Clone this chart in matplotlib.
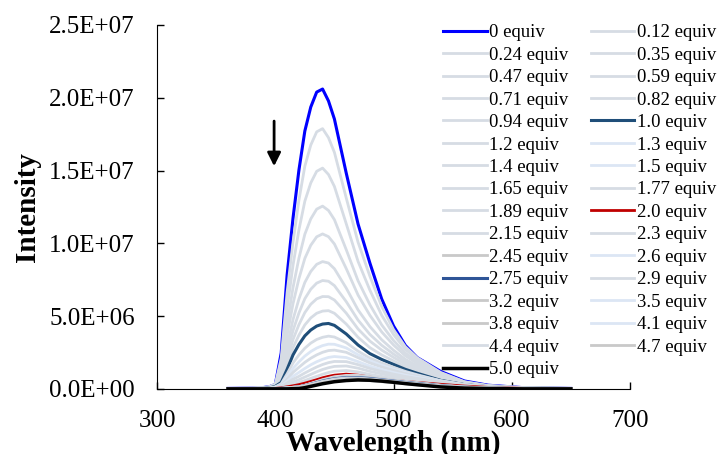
import matplotlib
matplotlib.use('Agg')
import matplotlib.pyplot as plt
from matplotlib.ticker import FuncFormatter, MultipleLocator

plt.rcParams['font.family'] = ['Liberation Serif', 'DejaVu Serif']

# wavelength grid (nm)
wavelength = [360, 380, 390, 395, 400, 405, 410, 415, 420, 425, 430, 435, 440, 445,
              450, 460, 470, 480, 490, 500, 510, 520, 540, 560, 580, 610, 650]

# intensity of each spectrum, in units of 1E+06
s_0    = [0.04, 0.06, 0.10, 0.16, 0.31, 2.47, 7.83, 11.74, 15.04, 17.72, 19.36, 20.39, 20.6, 19.78, 18.54, 14.83, 11.33, 8.65, 6.18, 4.33, 2.99, 2.16, 1.2, 0.55, 0.26, 0.09, 0.04]
s_0_12 = [0.04, 0.06, 0.09, 0.16, 0.32, 2.11, 6.64, 10.1, 12.97, 15.3, 16.75, 17.66, 17.88, 17.26, 16.25, 13.12, 10.08, 7.75, 5.67, 4.08, 2.9, 2.15, 1.13, 0.5, 0.23, 0.08, 0.04]
s_0_24 = [0.03, 0.05, 0.09, 0.15, 0.31, 1.76, 5.51, 8.5, 10.93, 12.9, 14.15, 14.95, 15.17, 14.73, 13.91, 11.35, 8.76, 6.79, 5.06, 3.74, 2.72, 2.05, 1.09, 0.48, 0.23, 0.08, 0.04]
s_0_35 = [0.03, 0.05, 0.08, 0.13, 0.29, 1.43, 4.46, 6.97, 8.99, 10.63, 11.68, 12.35, 12.56, 12.26, 11.63, 9.57, 7.43, 5.79, 4.4, 3.33, 2.47, 1.88, 1.01, 0.45, 0.22, 0.08, 0.04]
s_0_47 = [0.03, 0.04, 0.07, 0.12, 0.28, 1.19, 3.69, 5.86, 7.58, 8.97, 9.87, 10.45, 10.65, 10.46, 9.96, 8.27, 6.45, 5.06, 3.92, 3.02, 2.28, 1.76, 0.94, 0.43, 0.21, 0.07, 0.04]
s_0_59 = [0.02, 0.04, 0.06, 0.1, 0.26, 0.96, 2.95, 4.77, 6.18, 7.32, 8.07, 8.56, 8.75, 8.65, 8.26, 6.93, 5.43, 4.29, 3.38, 2.66, 2.04, 1.59, 0.85, 0.39, 0.19, 0.07, 0.03]
s_0_71 = [0.02, 0.03, 0.05, 0.1, 0.24, 0.8, 2.45, 4.02, 5.22, 6.2, 6.85, 7.27, 7.45, 7.4, 7.1, 6.0, 4.73, 3.75, 3.0, 2.4, 1.87, 1.47, 0.79, 0.36, 0.18, 0.06, 0.03]
s_0_82 = [0.02, 0.03, 0.05, 0.09, 0.22, 0.67, 2.03, 3.4, 4.42, 5.25, 5.82, 6.19, 6.35, 6.34, 6.11, 5.21, 4.12, 3.29, 2.67, 2.17, 1.7, 1.35, 0.73, 0.33, 0.17, 0.06, 0.03]
s_0_94 = [0.02, 0.03, 0.04, 0.08, 0.2, 0.55, 1.67, 2.84, 3.7, 4.4, 4.88, 5.2, 5.35, 5.38, 5.2, 4.46, 3.55, 2.84, 2.34, 1.93, 1.53, 1.22, 0.66, 0.3, 0.15, 0.05, 0.03]
s_1_0  = [0.01, 0.02, 0.04, 0.07, 0.18, 0.45, 1.35, 2.34, 3.06, 3.65, 4.05, 4.32, 4.46, 4.5, 4.37, 3.78, 3.02, 2.43, 2.03, 1.69, 1.35, 1.08, 0.59, 0.3, 0.15, 0.05, 0.03]
s_1_2  = [0.01, 0.02, 0.03, 0.06, 0.15, 0.36, 1.04, 1.79, 2.34, 2.8, 3.15, 3.4, 3.55, 3.63, 3.57, 3.18, 2.6, 2.12, 1.78, 1.49, 1.21, 0.98, 0.56, 0.29, 0.15, 0.05, 0.03]
s_1_3  = [0.02, 0.02, 0.03, 0.05, 0.13, 0.3, 0.84, 1.42, 1.86, 2.26, 2.57, 2.81, 2.98, 3.08, 3.07, 2.82, 2.35, 1.94, 1.63, 1.37, 1.13, 0.93, 0.56, 0.29, 0.15, 0.05, 0.03]
s_1_4  = [0.02, 0.02, 0.02, 0.05, 0.11, 0.26, 0.68, 1.14, 1.49, 1.83, 2.11, 2.34, 2.52, 2.64, 2.67, 2.52, 2.15, 1.79, 1.51, 1.28, 1.06, 0.88, 0.55, 0.29, 0.15, 0.05, 0.03]
s_1_5  = [0.02, 0.02, 0.02, 0.04, 0.09, 0.21, 0.53, 0.87, 1.14, 1.41, 1.66, 1.87, 2.04, 2.17, 2.23, 2.16, 1.88, 1.57, 1.34, 1.13, 0.95, 0.8, 0.52, 0.29, 0.15, 0.05, 0.03]
s_1_65 = [0.01, 0.02, 0.02, 0.04, 0.08, 0.18, 0.41, 0.67, 0.87, 1.1, 1.31, 1.51, 1.68, 1.81, 1.89, 1.88, 1.67, 1.41, 1.2, 1.02, 0.86, 0.73, 0.49, 0.28, 0.15, 0.05, 0.03]
s_1_77 = [0.01, 0.01, 0.02, 0.03, 0.07, 0.14, 0.31, 0.49, 0.64, 0.82, 1.0, 1.18, 1.34, 1.46, 1.55, 1.58, 1.43, 1.21, 1.04, 0.88, 0.75, 0.64, 0.44, 0.26, 0.14, 0.05, 0.03]
s_1_89 = [0.01, 0.01, 0.01, 0.03, 0.05, 0.11, 0.22, 0.33, 0.44, 0.58, 0.73, 0.87, 1.01, 1.13, 1.22, 1.27, 1.17, 1.0, 0.86, 0.73, 0.63, 0.54, 0.37, 0.24, 0.13, 0.05, 0.02]
s_2_0  = [0.01, 0.01, 0.01, 0.02, 0.04, 0.08, 0.15, 0.22, 0.3, 0.4, 0.52, 0.64, 0.77, 0.87, 0.95, 1.02, 0.95, 0.82, 0.7, 0.6, 0.52, 0.45, 0.32, 0.2, 0.11, 0.04, 0.02]
s_2_15 = [0.01, 0.01, 0.01, 0.02, 0.03, 0.05, 0.08, 0.12, 0.16, 0.26, 0.38, 0.51, 0.64, 0.74, 0.84, 0.93, 0.93, 0.85, 0.75, 0.64, 0.53, 0.44, 0.26, 0.14, 0.08, 0.03, 0.02]
s_2_3  = [0.01, 0.01, 0.01, 0.02, 0.03, 0.04, 0.08, 0.12, 0.16, 0.25, 0.37, 0.49, 0.61, 0.71, 0.8, 0.89, 0.89, 0.81, 0.72, 0.61, 0.51, 0.42, 0.25, 0.14, 0.07, 0.03, 0.02]
s_2_45 = [0.01, 0.01, 0.01, 0.02, 0.02, 0.04, 0.07, 0.11, 0.15, 0.24, 0.35, 0.47, 0.59, 0.68, 0.77, 0.85, 0.85, 0.78, 0.69, 0.59, 0.49, 0.4, 0.24, 0.13, 0.07, 0.02, 0.02]
s_2_6  = [0.01, 0.01, 0.01, 0.02, 0.02, 0.04, 0.07, 0.11, 0.14, 0.23, 0.34, 0.45, 0.56, 0.65, 0.73, 0.81, 0.81, 0.74, 0.66, 0.56, 0.47, 0.38, 0.23, 0.13, 0.07, 0.02, 0.02]
s_2_75 = [0.01, 0.01, 0.01, 0.01, 0.02, 0.04, 0.07, 0.1, 0.14, 0.22, 0.32, 0.43, 0.54, 0.63, 0.7, 0.79, 0.78, 0.72, 0.63, 0.54, 0.45, 0.37, 0.22, 0.12, 0.06, 0.02, 0.01]
s_2_9  = [0.01, 0.01, 0.01, 0.01, 0.02, 0.04, 0.06, 0.1, 0.13, 0.21, 0.31, 0.41, 0.52, 0.6, 0.68, 0.76, 0.75, 0.69, 0.61, 0.52, 0.43, 0.35, 0.21, 0.12, 0.06, 0.02, 0.01]
s_3_2  = [0.01, 0.01, 0.01, 0.01, 0.02, 0.04, 0.06, 0.09, 0.13, 0.2, 0.3, 0.4, 0.5, 0.58, 0.65, 0.73, 0.72, 0.66, 0.59, 0.5, 0.42, 0.34, 0.2, 0.11, 0.06, 0.02, 0.01]
s_3_5  = [0.01, 0.01, 0.01, 0.01, 0.02, 0.03, 0.06, 0.09, 0.12, 0.19, 0.29, 0.38, 0.48, 0.56, 0.63, 0.7, 0.69, 0.64, 0.56, 0.48, 0.4, 0.33, 0.19, 0.11, 0.06, 0.02, 0.01]
s_3_8  = [0.01, 0.01, 0.01, 0.01, 0.02, 0.03, 0.06, 0.09, 0.12, 0.19, 0.28, 0.37, 0.47, 0.54, 0.61, 0.68, 0.68, 0.62, 0.55, 0.47, 0.39, 0.32, 0.19, 0.11, 0.06, 0.02, 0.01]
s_4_1  = [0.01, 0.01, 0.01, 0.01, 0.02, 0.03, 0.06, 0.09, 0.12, 0.18, 0.27, 0.36, 0.45, 0.53, 0.59, 0.66, 0.66, 0.6, 0.53, 0.45, 0.38, 0.31, 0.18, 0.1, 0.05, 0.02, 0.01]
s_4_4  = [0.01, 0.01, 0.01, 0.01, 0.02, 0.03, 0.05, 0.08, 0.11, 0.18, 0.26, 0.35, 0.44, 0.51, 0.57, 0.64, 0.64, 0.58, 0.51, 0.44, 0.37, 0.3, 0.18, 0.1, 0.05, 0.02, 0.01]
s_4_7  = [0.01, 0.01, 0.01, 0.01, 0.02, 0.03, 0.05, 0.08, 0.11, 0.17, 0.26, 0.34, 0.43, 0.5, 0.56, 0.62, 0.62, 0.57, 0.5, 0.43, 0.36, 0.29, 0.17, 0.1, 0.05, 0.02, 0.01]
s_5_0  = [0.01, 0.01, 0.01, 0.01, 0.01, 0.01, 0.01, 0.02, 0.03, 0.09, 0.18, 0.27, 0.36, 0.43, 0.5, 0.58, 0.62, 0.6, 0.54, 0.46, 0.37, 0.29, 0.14, 0.06, 0.03, 0.01, 0.01]

spectra = [s_0, s_0_12, s_0_24, s_0_35, s_0_47, s_0_59, s_0_71, s_0_82, s_0_94, s_1_0,
           s_1_2, s_1_3, s_1_4, s_1_5, s_1_65, s_1_77, s_1_89, s_2_0, s_2_15, s_2_3,
           s_2_45, s_2_6, s_2_75, s_2_9, s_3_2, s_3_5, s_3_8, s_4_1, s_4_4, s_4_7, s_5_0]
equiv = ['0', '0.12', '0.24', '0.35', '0.47', '0.59', '0.71', '0.82', '0.94', '1.0',
         '1.2', '1.3', '1.4', '1.5', '1.65', '1.77', '1.89', '2.0', '2.15', '2.3',
         '2.45', '2.6', '2.75', '2.9', '3.2', '3.5', '3.8', '4.1', '4.4', '4.7', '5.0']

# colours (excel style palette)
bg = '#d6dce4'    # blue-grey
lb = '#dce6f4'    # light blue
gr = '#c9c9c9'    # grey
colors = {'0': '#0000ff', '1.0': '#1f4e79', '2.0': '#c00000', '2.75': '#2f5597', '5.0': 'black',
          '1.3': lb, '1.5': lb, '2.6': lb, '3.5': lb, '4.1': lb,
          '2.45': gr, '3.2': gr, '3.8': gr, '4.7': gr}
widths = {'0': 2.2, '1.0': 2.2, '2.0': 2.0, '2.75': 2.2, '5.0': 2.5}

fig = plt.figure(figsize=(7.24, 4.54), dpi=100)
ax = fig.add_axes([0.2169, 0.1432, 0.6533, 0.8018])

lines = []
for lab, ys in zip(equiv, spectra):
    ln, = ax.plot(wavelength, [v * 1e6 for v in ys], color=colors.get(lab, bg),
                  lw=widths.get(lab, 2.0), label=lab + ' equiv', solid_joinstyle='round')
    lines.append(ln)

# arrow showing the decrease
ax.annotate('', xy=(399, 1.53e7), xytext=(399, 1.84e7),
            arrowprops=dict(arrowstyle='-|>', color='black', lw=2, mutation_scale=20,
                            shrinkA=0, shrinkB=0))

ax.set_xlim(300, 700)
ax.set_ylim(0, 2.5e7)
ax.xaxis.set_major_locator(MultipleLocator(100))
ax.yaxis.set_major_locator(MultipleLocator(5e6))
ax.yaxis.set_major_formatter(FuncFormatter(lambda v, p: f'{v:.1E}'))
ax.tick_params(direction='in', length=5, width=1, labelsize=18)
ax.tick_params(axis='x', pad=15)
ax.tick_params(axis='y', pad=16)
for side in ['top', 'right']:
    ax.spines[side].set_visible(False)

ax.set_xlabel('Wavelength (nm)', fontsize=21, fontweight='bold', va='center')
ax.xaxis.set_label_coords(0.5, -0.15)
ax.set_ylabel('Intensity', fontsize=21, fontweight='bold', va='center')
ax.yaxis.set_label_coords(-0.273, 0.5)

# legend filled row by row, as in the original
order = list(range(0, len(lines), 2)) + list(range(1, len(lines), 2))
fig.legend([lines[i] for i in order], [lines[i].get_label() for i in order],
           ncol=2, loc='upper left', bbox_to_anchor=(0.6125, 0.947), frameon=False,
           fontsize=13.5, handlelength=2.3, handletextpad=0.15, columnspacing=1.2,
           labelspacing=0.285, borderpad=0, borderaxespad=0)

fig.savefig('out.png', dpi=100)
